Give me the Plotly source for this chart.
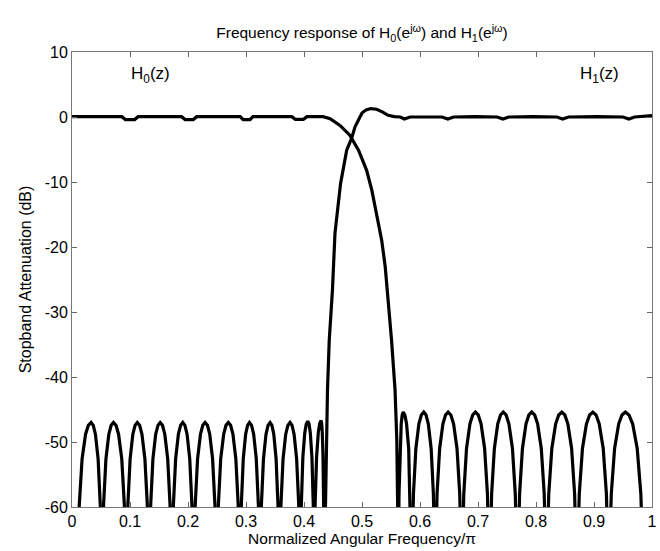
import plotly.graph_objects as go

# ---- data ----
# H0 (lowpass): passband ripple + transition band
h0_pass_f = [0.000, 0.086, 0.092, 0.108, 0.114, 0.189, 0.195, 0.209, 0.215, 0.290, 0.295, 0.307, 0.312,
             0.379, 0.385, 0.399, 0.405, 0.433,
             0.445, 0.462, 0.479, 0.494, 0.508, 0.517, 0.525, 0.534, 0.540, 0.5437, 0.551, 0.557, 0.560, 0.5615]
h0_pass_db = [0.05, 0.05, -0.40, -0.40, 0.05, 0.05, -0.40, -0.40, 0.05, 0.05, -0.40, -0.40, 0.05,
              0.05, -0.35, -0.35, 0.05, 0.05,
              -0.25, -1.3, -2.8, -5.1, -8.2, -11.3, -14.9, -19.0, -23.0, -26.7, -34.4, -42.0, -49.7, -60.0]
# H0 stopband lobes (null, rising side, peak, falling side)
h0_stop_f = [0.5625, 0.5638, 0.5655, 0.5676, 0.5693, 0.571, 0.5739, 0.5768, 0.5805, 0.5834,
             0.5856, 0.5887, 0.5929, 0.5981, 0.6023, 0.6065, 0.6104, 0.6143, 0.6192, 0.6231,
             0.626, 0.6294, 0.6339, 0.6395, 0.644, 0.6485, 0.6532, 0.6579, 0.6638, 0.6685,
             0.672, 0.6755, 0.6802, 0.6861, 0.6908, 0.6955, 0.7004, 0.7053, 0.7114, 0.7163,
             0.720, 0.7235, 0.7282, 0.7341, 0.7388, 0.7435, 0.7484, 0.7533, 0.7594, 0.7643,
             0.768, 0.7717, 0.7766, 0.7828, 0.7877, 0.7926, 0.7977, 0.8028, 0.8091, 0.8142,
             0.818, 0.822, 0.8273, 0.8339, 0.8392, 0.8445, 0.8497, 0.8549, 0.8614, 0.8666,
             0.8705, 0.8746, 0.8801, 0.887, 0.8925, 0.898, 0.9035, 0.909, 0.9159, 0.9214,
             0.9255, 0.9298, 0.9355, 0.9426, 0.9483, 0.954, 0.9603, 0.9666, 0.9745, 0.9808,
             0.9855, 1.000]
h0_stop_db = [-72, -58.0, -51.0, -47.2, -45.84, -45.4, -45.84, -47.2, -51.0, -58.0] * 9 + [-72, -66]

# H1 (highpass): stopband lobes
h1_stop_f = [0.000,
             0.009, 0.0126, 0.0174, 0.0234, 0.0282, 0.033, 0.0367, 0.0404, 0.045, 0.0487,
             0.0515, 0.0545, 0.0585, 0.0635, 0.0675, 0.0715, 0.0759, 0.0803, 0.0858, 0.0902,
             0.0935, 0.0964, 0.1002, 0.1049, 0.1087, 0.1125, 0.1166, 0.1206, 0.1257, 0.1298,
             0.1328, 0.1357, 0.1395, 0.1443, 0.1482, 0.152, 0.156, 0.160, 0.165, 0.169,
             0.172, 0.1749, 0.1787, 0.1834, 0.1872, 0.191, 0.1947, 0.1984, 0.203, 0.2067,
             0.2095, 0.2125, 0.2165, 0.2215, 0.2255, 0.2295, 0.2335, 0.2375, 0.2424, 0.2464,
             0.2494, 0.2524, 0.2564, 0.2615, 0.2655, 0.2695, 0.2735, 0.2775, 0.2825, 0.2865,
             0.2895, 0.292, 0.2953, 0.2994, 0.3027, 0.306, 0.3096, 0.3132, 0.3177, 0.3213,
             0.324, 0.3266, 0.3301, 0.3345, 0.338, 0.3415, 0.3447, 0.3479, 0.3519, 0.3551,
             0.3575, 0.3603, 0.3639, 0.3685, 0.3722, 0.3759, 0.3794, 0.3829, 0.3873, 0.3909,
             0.3935, 0.3955, 0.398, 0.4013, 0.4039, 0.4065, 0.4087, 0.4109, 0.4137, 0.4159,
             0.4175, 0.4193, 0.4217, 0.4247, 0.4271, 0.4295, 0.4305, 0.4315, 0.4328, 0.4338]
h1_stop_db = ([-75]
              + [-72, -59.6, -52.6, -48.8, -47.44, -47.0, -47.44, -48.8, -52.6, -59.6] * 10
              + [-72, -59.4, -52.4, -48.6, -47.24, -46.8, -47.24, -48.6, -52.4, -59.4]
              + [-72, -59.3, -52.3, -48.5, -47.14, -46.7, -47.14, -48.5, -52.3, -59.3])
# H1 transition band + passband ripple
h1_pass_f = [0.4345, 0.437, 0.4385, 0.4405, 0.4435, 0.449, 0.4534, 0.463, 0.4736, 0.482, 0.488, 0.4936,
             0.500, 0.507, 0.515, 0.525, 0.535, 0.545, 0.556, 0.566,
             0.573, 0.583, 0.610, 0.638, 0.648, 0.658, 0.695, 0.733, 0.743, 0.753,
             0.795, 0.836, 0.846, 0.856, 0.905, 0.950, 0.960, 0.970, 1.000]
h1_pass_db = [-72, -60.0, -49.7, -42.0, -34.4, -26.7, -17.9, -10.25, -5.1, -3.3, -1.5, -0.5,
              0.6, 1.1, 1.3, 1.2, 0.8, 0.26, 0.05, 0.0,
              -0.3, 0.0, 0.05, 0.0, -0.3, 0.0, 0.05, 0.0, -0.3, 0.0,
              0.05, 0.0, -0.3, 0.0, 0.05, 0.0, -0.3, 0.0, 0.2]

x_ticks = [0, 0.1, 0.2, 0.3, 0.4, 0.5, 0.6, 0.7, 0.8, 0.9, 1]
y_ticks = [-60, -50, -40, -30, -20, -10, 0, 10]

labels = ["H<sub>0</sub>(z)", "H<sub>1</sub>(z)"]
label_f = [0.135, 0.91]
label_db = [6.4, 6.4]

# ---- figure ----
font = "Liberation Sans, Arial, sans-serif"
h0_f = h0_pass_f + h0_stop_f
h0_db = h0_pass_db + h0_stop_db
h1_f = h1_stop_f + h1_pass_f
h1_db = h1_stop_db + h1_pass_db

fig = go.Figure()
fig.add_trace(go.Scatter(x=h0_f, y=h0_db, mode="lines", name="H0",
                         line=dict(color="black", width=3.2), showlegend=False))
fig.add_trace(go.Scatter(x=h1_f, y=h1_db, mode="lines", name="H1",
                         line=dict(color="black", width=3.2), showlegend=False))

for t, fx, fy in zip(labels, label_f, label_db):
    fig.add_annotation(x=fx, y=fy, xref="x", yref="y", text=t, showarrow=False,
                       font=dict(family=font, size=17, color="black"))

axis_common = dict(ticks="inside", ticklen=5, tickcolor="#666", mirror="ticks",
                   showline=True, linecolor="#777", linewidth=1, showgrid=False,
                   zeroline=False, tickfont=dict(family=font, size=16, color="black"))

fig.update_xaxes(range=[0, 1], tickvals=x_ticks, ticktext=[f"{v:g}" for v in x_ticks],
                 title=dict(text="Normalized Angular Frequency/π",
                            font=dict(family=font, size=15.5, color="black"), standoff=3),
                 **axis_common)
fig.update_yaxes(range=[-60, 10], tickvals=y_ticks, ticktext=[str(v) for v in y_ticks],
                 title=dict(text="Stopband Attenuation (dB)",
                            font=dict(family=font, size=16, color="black"), standoff=9),
                 **axis_common)

fig.update_layout(
    width=660, height=551,
    margin=dict(l=72, r=8, t=52, b=44, autoexpand=False),
    paper_bgcolor="white", plot_bgcolor="white",
    hovermode=False,
    title=dict(text="Frequency response of H<sub>0</sub>(e<sup>jω</sup>) and H<sub>1</sub>(e<sup>jω</sup>)",
               x=0.5, xref="paper", xanchor="center", y=0.94, yref="container", yanchor="middle",
               font=dict(family=font, size=15.5, color="black")),
)

fig.write_html("out.html",
               config={"displayModeBar": False, "staticPlot": True},
               post_script="document.body.style.margin='0px';document.body.style.overflow='hidden';")
